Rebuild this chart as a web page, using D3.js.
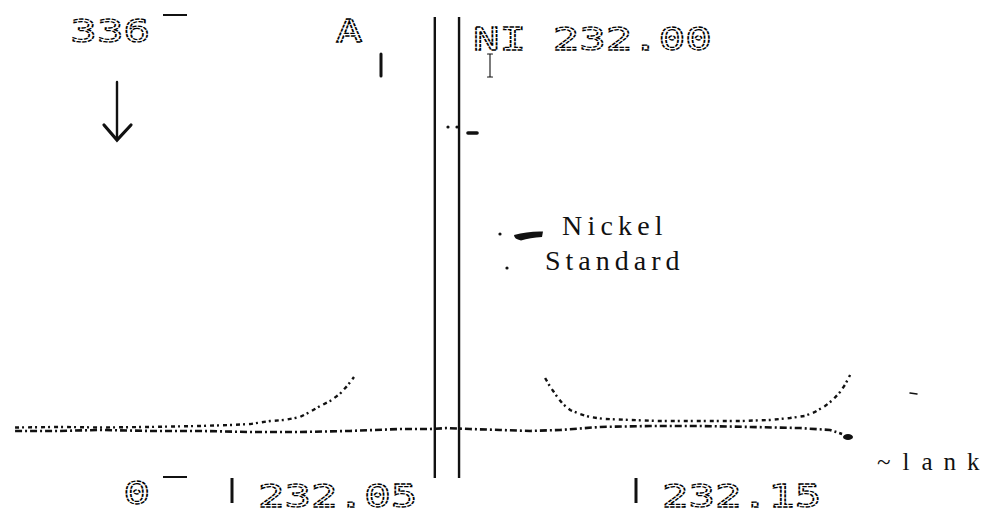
<!DOCTYPE html>
<html><head><meta charset="utf-8">
<script src="https://cdn.jsdelivr.net/npm/d3@7"></script>
<style>html,body{margin:0;padding:0;background:#fff;} svg{display:block}</style>
</head><body><svg id="c" width="991" height="514"></svg>
<script>
// ---- data ----
const yTickValues = [0, 336];
const yTickLabels = ["0", "336"];
const xTickValues = [232.05, 232.15];
const xTickLabels = ["232.05", "232.15"];
const lineLabel = "NI 232.00";
const markerLabel = "A";
const peakEdges = [232.1002, 232.1062];
const peakEdgeRange = [-0.7, 334.5];

// Nickel standard, left flank (wavelength nm, intensity)
const standardLeftWl  = [231.9963, 232.0074, 232.0173, 232.0297, 232.0421, 232.0495, 232.0545, 232.0594, 232.0631, 232.0668, 232.0693, 232.0718, 232.0743, 232.0767, 232.0785, 232.0802];
const standardLeftVal = [36.0, 36.4, 36.0, 36.4, 37.1, 37.8, 38.5, 40.7, 41.5, 43.6, 47.3, 51.6, 55.3, 60.4, 66.2, 72.7];
// Nickel standard, right flank
const standardRightWl  = [232.1275, 232.1285, 232.1295, 232.1307, 232.1319, 232.1337, 232.1361, 232.1386, 232.1423, 232.1485, 232.1559, 232.1658, 232.1757, 232.1832, 232.1881, 232.1918, 232.1943, 232.1968, 232.1987, 232.2005, 232.2017, 232.2030];
const standardRightVal = [72.0, 66.9, 62.5, 57.5, 53.1, 48.7, 45.8, 43.6, 42.2, 41.5, 40.7, 40.7, 40.7, 41.5, 42.9, 44.4, 47.3, 51.6, 56.0, 61.8, 66.9, 74.2];
// Blank
const blankWl  = [231.9963, 232.0074, 232.0173, 232.0297, 232.0421, 232.0545, 232.0668, 232.0792, 232.0916, 232.0990, 232.1032, 232.1089, 232.1163, 232.1238, 232.1312, 232.1411, 232.1535, 232.1658, 232.1782, 232.1906, 232.1980, 232.2010];
const blankVal = [33.5, 33.5, 34.2, 33.5, 33.5, 32.7, 32.7, 33.5, 34.9, 34.9, 35.6, 34.9, 34.2, 33.5, 34.2, 36.4, 37.1, 37.1, 36.4, 35.6, 34.2, 31.3];

const seriesLabels = ["Nickel", "Standard"];
const blankLabel = "~lank";

// ---- layout ----
const svg = d3.select("#c");
const x = d3.scaleLinear().domain([232.05, 232.15]).range([232, 636]);
const y = d3.scaleLinear().domain([0, 336]).range([477, 15]);
const ink = "#111";

function lcdText(g, str, tx, ty, anchor) {
  g.append("g").attr("transform", `translate(${tx},${ty}) scale(1.4,1)`)
    .append("text").text(str)
    .attr("text-anchor", anchor || "start")
    .attr("font-family", "DejaVu Sans Mono")
    .attr("font-size", 31.5)
    .attr("fill", "none")
    .attr("stroke", "#000")
    .attr("stroke-width", 1.25)
    .attr("stroke-dasharray", "3.2,0.9");
}

// y ticks
const yt = svg.append("g");
yTickValues.forEach((v, i) => {
  yt.append("line").attr("x1", 163).attr("x2", 187).attr("y1", y(v)).attr("y2", y(v))
    .attr("stroke", ink).attr("stroke-width", 2);
  lcdText(yt, yTickLabels[i], 150, y(v) + 27, "end");
});

// x ticks
const xt = svg.append("g");
xTickValues.forEach((v, i) => {
  xt.append("line").attr("x1", x(v)).attr("x2", x(v)).attr("y1", 478).attr("y2", 503)
    .attr("stroke", ink).attr("stroke-width", 3);
  lcdText(xt, xTickLabels[i], x(v) + 26, 507, "start");
});

// top labels
lcdText(svg, markerLabel, 336, 42, "start");
lcdText(svg, lineLabel, 473, 50, "start");

// peak edges (off-scale peak)
svg.append("g").selectAll("line").data(peakEdges).join("line")
  .attr("x1", d => x(d)).attr("x2", d => x(d))
  .attr("y1", y(peakEdgeRange[1])).attr("y2", y(peakEdgeRange[0]))
  .attr("stroke", ink).attr("stroke-width", 2.4);

// series
const line = d3.line().x(d => x(d[0])).y(d => y(d[1]));
const zip = (a, b) => a.map((w, i) => [w, b[i]]);
svg.append("path").datum(zip(blankWl, blankVal)).attr("d", line)
  .attr("fill", "none").attr("stroke", ink).attr("stroke-width", 2.6)
  .attr("stroke-dasharray", "7,3,2,3");
[zip(standardLeftWl, standardLeftVal), zip(standardRightWl, standardRightVal)].forEach(dd => {
  svg.append("path").datum(dd).attr("d", line)
    .attr("fill", "none").attr("stroke", ink).attr("stroke-width", 2.4)
    .attr("stroke-dasharray", "4,3,2,4");
});

// annotations
const an = svg.append("g").attr("stroke", ink).attr("fill", "none").attr("stroke-linecap", "round");
an.append("line").attr("x1", 117).attr("x2", 117).attr("y1", 82).attr("y2", 139).attr("stroke-width", 2.4);
an.append("path").attr("d", "M104,125 L117,140 L131,125").attr("stroke-width", 3.2);
an.append("line").attr("x1", 381).attr("x2", 381).attr("y1", 54).attr("y2", 76).attr("stroke-width", 3);
an.append("path").attr("d", "M490,54 L490,77 M487.5,54 L492.5,54 M487.5,77 L492.5,77").attr("stroke-width", 1.1);
an.append("line").attr("x1", 468).attr("x2", 477).attr("y1", 133).attr("y2", 133).attr("stroke-width", 3.6);
an.append("line").attr("x1", 910).attr("x2", 917).attr("y1", 393).attr("y2", 394).attr("stroke-width", 1.5);
const dots = [[448, 127], [457, 127], [500, 234], [507, 268]];
svg.append("g").selectAll("circle").data(dots).join("circle")
  .attr("cx", d => d[0]).attr("cy", d => d[1]).attr("r", 1.6).attr("fill", ink);
svg.append("path").attr("d", "M514,235 Q528,231 543,231.5 L542,237 Q530,237.5 521,240.5 Q514,239 514,235 Z").attr("fill", ink);
svg.append("ellipse").attr("cx", 848).attr("cy", 437).attr("rx", 5).attr("ry", 3).attr("fill", ink);

// series labels
svg.append("text").text(seriesLabels[0]).attr("x", 562).attr("y", 235)
  .attr("font-family", "Liberation Serif").attr("font-size", 28).attr("letter-spacing", 5.2).attr("fill", ink);
svg.append("text").text(seriesLabels[1]).attr("x", 545).attr("y", 270)
  .attr("font-family", "Liberation Serif").attr("font-size", 28).attr("letter-spacing", 5).attr("fill", ink);
svg.append("text").text(blankLabel).attr("x", 877).attr("y", 470)
  .attr("dx", "0 12 12 11 11")
  .attr("font-family", "Liberation Serif").attr("font-size", 25).attr("fill", ink);
</script></body></html>
